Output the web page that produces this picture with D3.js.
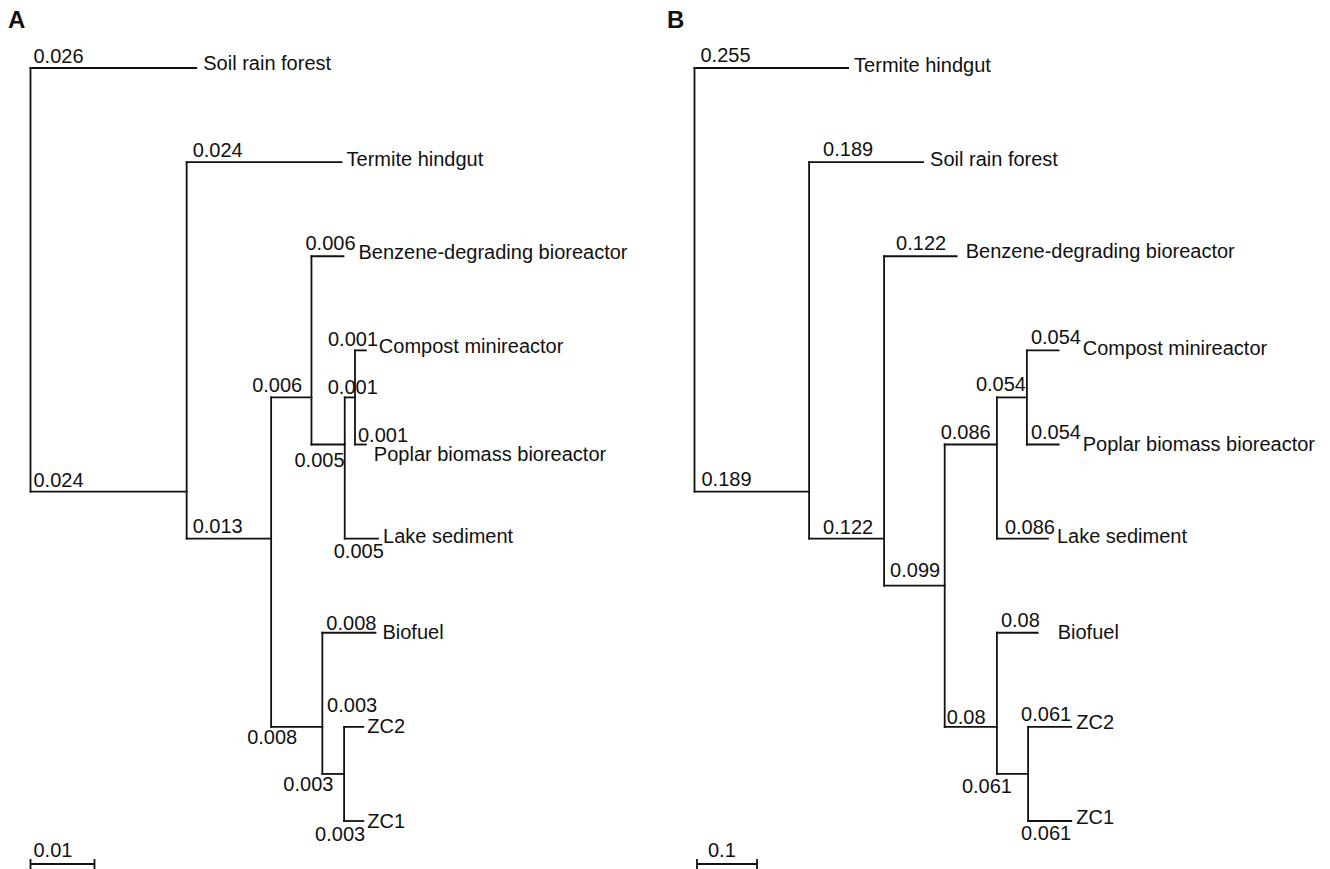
<!DOCTYPE html>
<html>
<head>
<meta charset="utf-8">
<script src="https://cdn.jsdelivr.net/npm/d3@7"></script>
<style>
  html, body { margin: 0; padding: 0; background: #fff; }
  svg { display: block; }
  text { font-family: "Liberation Sans", Arial, sans-serif; fill: #111; }
</style>
</head>
<body>
<svg id="chart" width="1330" height="869"></svg>
<script>
// ---------- Panel A data ----------
const nodesA   = ["root","Soil rain forest","a1","Termite hindgut","a2","a3","Benzene-degrading bioreactor","a4","a5","Compost minireactor","Poplar biomass bioreactor","Lake sediment","a6","Biofuel","a7","ZC2","ZC1"];
const parentsA = ["","root","root","a1","a1","a2","a3","a3","a4","a5","a5","a4","a2","a6","a6","a7","a7"];
const lengthsA = [0,0.0259,0.0244,0.0242,0.0132,0.0063,0.0050,0.0052,0.0016,0.0017,0.0017,0.0052,0.0080,0.0083,0.0034,0.0030,0.0030];
const labelsA  = ["","0.026","0.024","0.024","0.013","0.006","0.006","0.005","0.001","0.001","0.001","0.005","0.008","0.008","0.003","0.003","0.003"];
const scaleBarA = 0.01;
const scaleBarLabelA = "0.01";

// ---------- Panel B data ----------
const nodesB   = ["root","Termite hindgut","b1","Soil rain forest","b2","Benzene-degrading bioreactor","b3","b4","b5","Compost minireactor","Poplar biomass bioreactor","Lake sediment","b6","Biofuel","b7","ZC2","ZC1"];
const parentsB = ["","root","root","b1","b1","b2","b2","b3","b4","b5","b5","b4","b3","b6","b6","b7","b7"];
const lengthsB = [0,0.256,0.191,0.190,0.125,0.121,0.101,0.087,0.050,0.053,0.053,0.085,0.087,0.068,0.052,0.072,0.072];
const labelsB  = ["","0.255","0.189","0.189","0.122","0.122","0.099","0.086","0.054","0.054","0.054","0.086","0.08","0.08","0.061","0.061","0.061"];
const scaleBarB = 0.1;
const scaleBarLabelB = "0.1";

// ---------- layout (label offsets, not data) ----------
const branchLabelOffsetA = {
  "Soil rain forest":[3,-5], a1:[3,-5], "Termite hindgut":[6,-5], a2:[6,-6], a3:[-19,-5],
  "Benzene-degrading bioreactor":[-6,-6], a4:[-17,22], a5:[-17,-3], "Compost minireactor":[-27,-4],
  "Poplar biomass bioreactor":[3,-3], "Lake sediment":[-11,19], a6:[-24,17], "Biofuel":[4,-3],
  a7:[-39,17], "ZC2":[-17,-15], "ZC1":[-29,20]
};
const leafNameOffsetA = {
  "Soil rain forest":[7,2], "Termite hindgut":[5,4], "Benzene-degrading bioreactor":[15,3],
  "Compost minireactor":[13,3], "Poplar biomass bioreactor":[8,16], "Lake sediment":[5,4],
  "Biofuel":[7,6], "ZC2":[4,6], "ZC1":[4,7]
};
const branchLabelOffsetB = {
  "Termite hindgut":[6,-6], b1:[7,-6], "Soil rain forest":[14,-6], b2:[14,-5],
  "Benzene-degrading bioreactor":[12,-6], b3:[6,-9], b4:[-4,-6], b5:[-21,-6],
  "Compost minireactor":[4,-6], "Poplar biomass bioreactor":[4,-6], "Lake sediment":[8,-5],
  b6:[2,-3], "Biofuel":[4,-6], b7:[-35,19], "ZC2":[-7,-6], "ZC1":[-7,19]
};
const leafNameOffsetB = {
  "Termite hindgut":[6,4], "Soil rain forest":[7,4], "Benzene-degrading bioreactor":[9,2],
  "Compost minireactor":[24,5], "Poplar biomass bioreactor":[24,6], "Lake sediment":[9,4],
  "Biofuel":[20,6], "ZC2":[5,2], "ZC1":[5,3]
};

const svg = d3.select("#chart");
const FONT = 20;
const STROKE = "#111";
const SW = 1.8;

const yLeaf = d3.scaleLinear().domain([0, 8]).range([68, 821]);

function drawTree(cfg) {
  const rows = cfg.nodes.map((id, i) => ({ id, parent: cfg.parents[i] || null, len: cfg.lengths[i], label: cfg.labels[i] }));
  const root = d3.stratify().id(d => d.id).parentId(d => d.parent)(rows);
  root.eachBefore(n => { n.dist = n.parent ? n.parent.dist + n.data.len : 0; });
  root.leaves().forEach((l, i) => { l.yy = yLeaf(i); });
  root.eachAfter(n => { if (n.children) n.yy = d3.mean(n.leaves(), l => l.yy); });

  const x = cfg.x;
  const g = svg.append("g");

  // horizontal branches
  g.selectAll("line.h").data(root.descendants().filter(n => n.parent)).join("line")
    .attr("x1", n => x(n.parent.dist)).attr("x2", n => x(n.dist))
    .attr("y1", n => n.yy).attr("y2", n => n.yy)
    .attr("stroke", STROKE).attr("stroke-width", SW).attr("stroke-linecap", "square");

  // vertical connectors
  g.selectAll("line.v").data(root.descendants().filter(n => n.children)).join("line")
    .attr("x1", n => x(n.dist)).attr("x2", n => x(n.dist))
    .attr("y1", n => d3.min(n.children, c => c.yy)).attr("y2", n => d3.max(n.children, c => c.yy))
    .attr("stroke", STROKE).attr("stroke-width", SW).attr("stroke-linecap", "square");

  // branch length labels
  g.selectAll("text.bl").data(root.descendants().filter(n => n.parent)).join("text")
    .attr("x", n => x(n.parent.dist) + cfg.labOff[n.id][0])
    .attr("y", n => n.yy + cfg.labOff[n.id][1])
    .attr("font-size", FONT)
    .text(n => n.data.label);

  // leaf names
  g.selectAll("text.leaf").data(root.leaves()).join("text")
    .attr("x", n => x(n.dist) + cfg.nameOff[n.id][0])
    .attr("y", n => n.yy + cfg.nameOff[n.id][1])
    .attr("font-size", FONT)
    .text(n => n.id);

  // scale bar
  const sy = 864, x0 = x(0) + cfg.barShift, x1 = x0 + (x(cfg.bar) - x(0));
  const sb = g.append("g");
  sb.append("line").attr("x1", x0).attr("x2", x1).attr("y1", sy).attr("y2", sy)
    .attr("stroke", STROKE).attr("stroke-width", SW);
  [x0, x1].forEach(xx => sb.append("line").attr("x1", xx).attr("x2", xx).attr("y1", sy - 5).attr("y2", sy + 5)
    .attr("stroke", STROKE).attr("stroke-width", SW));
  sb.append("text").attr("x", x0 + cfg.barLabelDx).attr("y", sy - 7).attr("font-size", FONT).text(cfg.barLabel);

  // panel letter
  svg.append("text").attr("x", cfg.letterX).attr("y", 28).attr("font-size", 24)
    .attr("font-weight", "bold").text(cfg.letter);
}

drawTree({
  nodes: nodesA, parents: parentsA, lengths: lengthsA, labels: labelsA,
  x: d3.scaleLinear().domain([0, 0.05]).range([30.5, 30.5 + 0.05 * 6400]),
  labOff: branchLabelOffsetA, nameOff: leafNameOffsetA,
  bar: scaleBarA, barLabel: scaleBarLabelA, barShift: 0, barLabelDx: 3,
  letter: "A", letterX: 8
});

drawTree({
  nodes: nodesB, parents: parentsB, lengths: lengthsB, labels: labelsB,
  x: d3.scaleLinear().domain([0, 0.5]).range([694.5, 694.5 + 0.5 * 600]),
  labOff: branchLabelOffsetB, nameOff: leafNameOffsetB,
  bar: scaleBarB, barLabel: scaleBarLabelB, barShift: 2.5, barLabelDx: 11,
  letter: "B", letterX: 667
});
</script>
</body>
</html>
